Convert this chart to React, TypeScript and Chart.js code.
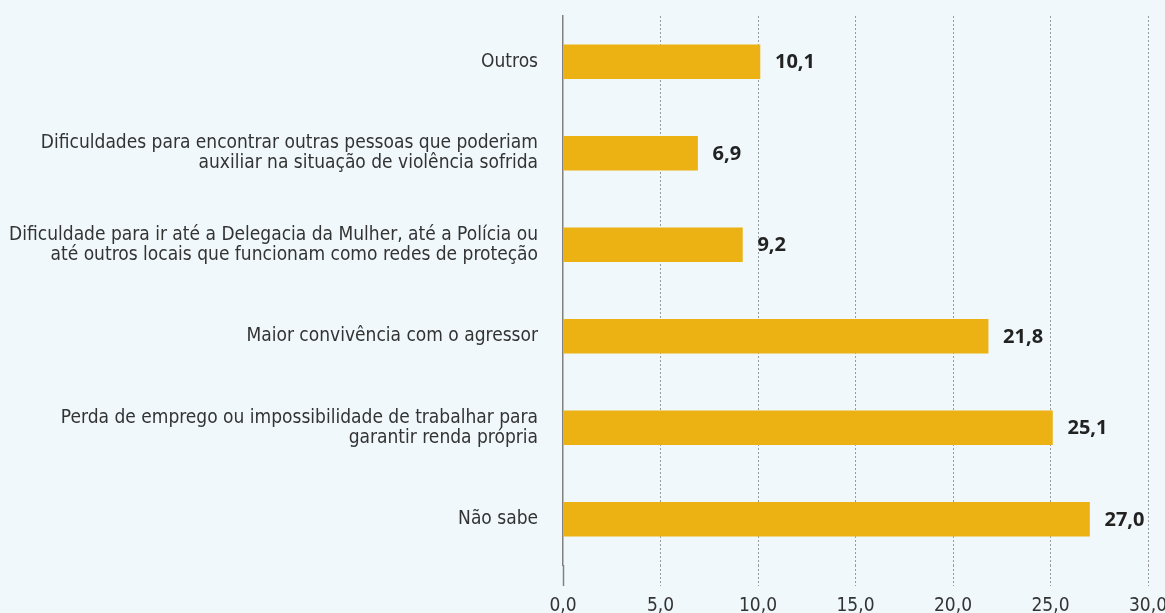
import React, { useEffect, useRef } from "react";
import { Chart, registerables } from "chart.js";

Chart.register(...registerables);

const categories: (string | string[])[] = [
  "Outros",
  ["Dificuldades para encontrar outras pessoas que poderiam", "auxiliar na situação de violência sofrida"],
  ["Dificuldade para ir até a Delegacia da Mulher, até a Polícia ou", "até outros locais que funcionam como redes de proteção"],
  "Maior convivência com o agressor",
  ["Perda de emprego ou impossibilidade de trabalhar para", "garantir renda própria"],
  "Não sabe",
];

const values: number[] = [10.1, 6.9, 9.2, 21.8, 25.1, 27.0];

const xTicks: number[] = [0, 5, 10, 15, 20, 25, 30];

const BG = "#F0F8FB";
const BAR = "#ECB213";
const LABEL_FONT = "'Liberation Sans Narrow', 'DejaVu Sans Condensed', 'Open Sans', sans-serif";

const fmt = (v: number) => v.toFixed(1).replace(".", ",");

const valueLabels = {
  id: "valueLabels",
  afterDatasetsDraw(chart: any) {
    const ctx = chart.ctx;
    const meta = chart.getDatasetMeta(0);
    ctx.save();
    ctx.font = "bold 20px 'Open Sans', sans-serif";
    ctx.fillStyle = "#222222";
    ctx.textAlign = "left";
    ctx.textBaseline = "middle";
    meta.data.forEach((bar: any, i: number) => {
      ctx.fillText(fmt(values[i]), bar.x + 15, bar.y + 1);
    });
    ctx.restore();
  },
};

const zeroPad = (scale: any) => {
  scale.paddingTop = 0;
  scale.paddingBottom = 0;
  scale.paddingLeft = 0;
  scale.paddingRight = 0;
};

export default function App() {
  const ref = useRef<HTMLCanvasElement | null>(null);

  useEffect(() => {
    if (!ref.current) return;
    const chart = new Chart(ref.current, {
      type: "bar",
      data: {
        labels: categories,
        datasets: [
          {
            data: values,
            backgroundColor: BAR,
            borderWidth: 0,
            barThickness: 34,
          },
        ],
      },
      plugins: [valueLabels],
      options: {
        indexAxis: "y",
        responsive: false,
        animation: false,
        layout: { padding: { top: 16, right: 17, left: 0, bottom: 0 } },
        plugins: {
          legend: { display: false },
          tooltip: { enabled: false },
        },
        scales: {
          x: {
            type: "linear",
            min: 0,
            max: 30,
            afterBuildTicks: (scale: any) => {
              scale.ticks = xTicks.map((v) => ({ value: v }));
            },
            afterFit: (scale: any) => {
              scale.height = 48;
              zeroPad(scale);
            },
            ticks: {
              padding: 9,
              color: "#333333",
              font: { family: LABEL_FONT, size: 19 },
              callback: (v: any) => fmt(Number(v)),
              maxRotation: 0,
            },
            grid: {
              color: (c: any) => (c.tick && c.tick.value === 0 ? "rgba(0,0,0,0)" : "#9a9a9a"),
              tickColor: (c: any) => (c.tick && c.tick.value === 0 ? "#808080" : "#9a9a9a"),
              tickWidth: (c: any) => (c.tick && c.tick.value === 0 ? 1.5 : 1),
              tickBorderDash: (c: any) => (c.tick && c.tick.value === 0 ? [] : [2, 2]),
              tickLength: 21,
              lineWidth: 1,
            },
            border: { display: false, dash: [2, 2] },
          },
          y: {
            afterFit: (scale: any) => {
              scale.width = 563;
              zeroPad(scale);
            },
            ticks: {
              padding: 25,
              color: "#333333",
              font: { family: LABEL_FONT, size: 19, lineHeight: 1.05 },
            },
            grid: { display: false, drawTicks: false },
            border: { display: true, color: "#808080", width: 1.5 },
          },
        },
      },
    } as any);
    return () => chart.destroy();
  }, []);

  return (
    <div style={{ position: "absolute", left: 0, top: 0, width: 1165, height: 613, background: BG }}>
      <canvas ref={ref} width={1165} height={613} style={{ display: "block" }} />
    </div>
  );
}
